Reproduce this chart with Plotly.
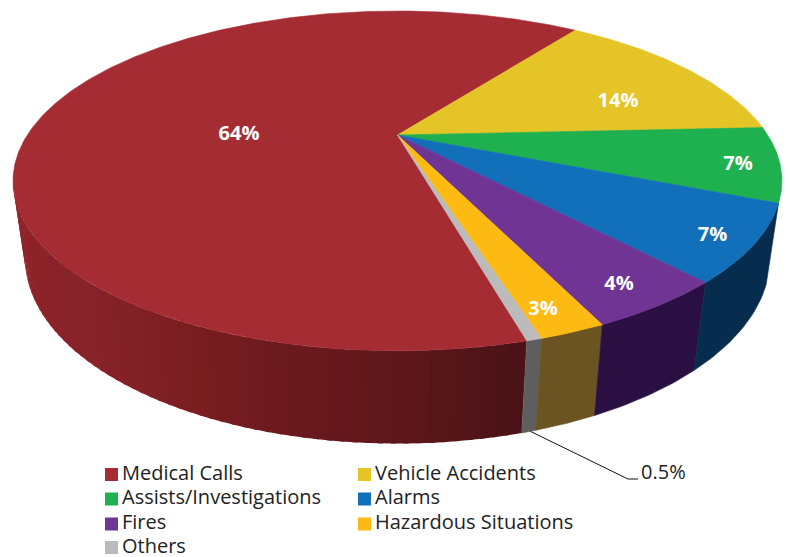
import numpy as np
import plotly.graph_objects as go

# ---- data -------------------------------------------------------------
categories = ["Medical Calls", "Vehicle Accidents", "Assists/Investigations", "Alarms",
              "Fires", "Hazardous Situations", "Others"]
shares = [64.1, 14.3, 7.1, 7.1, 4.7, 2.2, 0.5]
slice_labels = ["64%", "14%", "7%", "7%", "4%", "3%"]
other_label = "0.5%"
top_colors = ["#A52C33", "#E5C427", "#1FB04F", "#1170B9", "#6F3494", "#FDBA12", "#BBBBBB"]

# ---- styling / layout --------------------------------------------------
START_ANGLE = 35.8
WALL_MIN, WALL_MAX = 113.0, 256.0
label_x = [239, 618, 738, 712.5, 619, 543]
label_y = [135, 102, 165, 236, 285, 310]
legend_x = [111.5, 364.5, 111.5, 364.5, 111.5, 364.5, 111.5]
legend_y = [474.5, 474.5, 499, 499, 524, 524, 547.5]
LEGEND_TEXT_OFFSET = 10.5
TEXT = "#222222"
FONT = "Open Sans"
FONT_SIZE = 20

wall_flat = {"Alarms": "#062D4D", "Fires": "#2A1042", "Hazardous Situations": "#6B5422", "Others": "#5E5E5E",
             "Assists/Investigations": "#062D4D", "Vehicle Accidents": "#6B5A12"}
shade_angle = [165, 180, 191, 204, 219, 240, 256]
shade_r = [0x4A, 0x60, 0x6A, 0x7A, 0x86, 0x8E, 0x8F]
shade_g = [0x13, 0x17, 0x1A, 0x1E, 0x23, 0x24, 0x25]
shade_b = [0x17, 0x1B, 0x1F, 0x1F, 0x2A, 0x29, 0x2A]

# ---- perspective projection of the disc --------------------------------
CX, CY, A, B, K, M, C = 397.5, 135.0, 370.2, 157.5, 0.27, 0.03, 77.0


def project(angle_deg, radius=1.0, depth=0.0):
    t = np.radians(angle_deg)
    u, v = radius * np.sin(t), radius * np.cos(t)
    w = 1 + K * v + M * depth
    return CX + A * u / w, CY + (-B * v + C * depth) / w


fig = go.Figure()


def polygon(xs, ys, color, width=0.6):
    fig.add_trace(go.Scatter(x=list(xs), y=list(ys), mode="lines", fill="toself", fillcolor=color,
                             line=dict(color=color, width=width), hoverinfo="skip", showlegend=False))


fractions = np.array(shares) / sum(shares)
order = [1, 2, 3, 4, 5, 6, 0]
spans = {}
a0 = START_ANGLE
for i in order:
    a1 = a0 + fractions[i] * 360
    spans[i] = (a0, a1)
    a0 = a1

# side wall: the big slice is painted from its far (left) end towards the front,
# each band overlapping the one before so no seams show
for i in order[::-1]:
    s0, s1 = spans[i]
    lo, hi = max(s0, WALL_MIN), min(s1, WALL_MAX)
    if hi <= lo:
        continue
    if categories[i] == "Medical Calls":
        grid = np.linspace(hi, lo, 61)
        for g0, g1 in zip(grid[:-1], grid[1:]):
            arc = np.linspace(g0 + 0.6 if g0 + 0.6 < hi else g0, g1, 5)
            tx, ty = project(arc)
            bx, by = project(arc[::-1], 1.0, 1.0)
            mid = (g0 + g1) / 2
            col = "rgb(%d,%d,%d)" % (np.interp(mid, shade_angle, shade_r),
                                     np.interp(mid, shade_angle, shade_g),
                                     np.interp(mid, shade_angle, shade_b))
            polygon(np.r_[tx, bx, tx[0]], np.r_[ty, by, ty[0]], col, 0)
    else:
        arc = np.linspace(lo, hi, 24)
        tx, ty = project(arc)
        bx, by = project(arc[::-1], 1.0, 1.0)
        polygon(np.r_[tx, bx, tx[0]], np.r_[ty, by, ty[0]], wall_flat[categories[i]])

# top face
for i in [0] + order[:-1]:
    s0, s1 = spans[i]
    arc = np.linspace(s0, s1, max(4, int((s1 - s0) * 2)))
    tx, ty = project(arc)
    polygon(np.r_[CX, tx, CX], np.r_[CY, ty, CY], top_colors[i])

# leader line for the Others slice
lead_x, lead_y = project(np.mean(spans[6]) - 0.2, 1.0, 1.0)
fig.add_trace(go.Scatter(x=[lead_x, 628, 638], y=[lead_y, 479, 479], mode="lines",
                         line=dict(color="#111111", width=1), hoverinfo="skip", showlegend=False))
fig.add_trace(go.Scatter(x=[641], y=[473.5], mode="text", text=[other_label], textposition="middle right",
                         textfont=dict(family=FONT, size=FONT_SIZE, color=TEXT), hoverinfo="skip", showlegend=False))

# percentage labels
fig.add_trace(go.Scatter(x=label_x, y=label_y, mode="text", text=slice_labels, textposition="middle center",
                         textfont=dict(family=FONT, size=FONT_SIZE, color="white", weight="bold"),
                         hoverinfo="skip", showlegend=False))

# legend: swatches and their names
for name, color, lx, ly in zip(categories, top_colors, legend_x, legend_y):
    fig.add_trace(go.Scatter(x=[lx], y=[ly], mode="markers",
                             marker=dict(symbol="square", size=13, color=color),
                             hoverinfo="skip", showlegend=False))
    fig.add_trace(go.Scatter(x=[lx + LEGEND_TEXT_OFFSET], y=[ly], mode="text", text=[name], textposition="middle right",
                             textfont=dict(family=FONT, size=FONT_SIZE, color=TEXT),
                             hoverinfo="skip", showlegend=False))

fig.update_layout(width=790, height=557, margin=dict(l=0, r=0, t=0, b=0),
                  paper_bgcolor="white", plot_bgcolor="white", showlegend=False,
                  xaxis=dict(range=[0, 790], visible=False, fixedrange=True),
                  yaxis=dict(range=[557, 0], visible=False, fixedrange=True))
fig.write_html("out.html", config=dict(displayModeBar=False),
               post_script="document.body.style.margin='0';document.documentElement.style.overflow='hidden';")
